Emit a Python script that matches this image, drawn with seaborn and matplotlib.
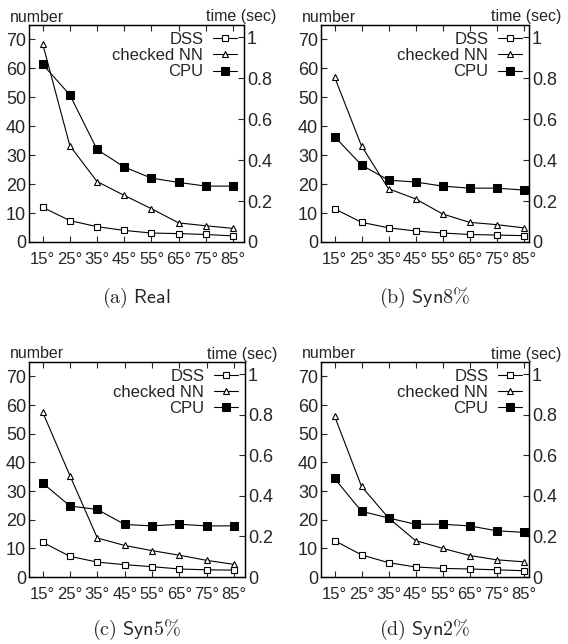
import numpy as np
import matplotlib
matplotlib.use('Agg')
import matplotlib.pyplot as plt
import seaborn as sns

# --- data ---
angles = [15, 25, 35, 45, 55, 65, 75, 85]
angle_labels = ['15°', '25°', '35°', '45°', '55°', '65°', '75°', '85°']

real_dss = [12.0, 7.4, 5.3, 4.0, 3.1, 2.9, 2.6, 2.1]
real_nn = [68.6, 33.3, 20.9, 16.1, 11.5, 6.6, 5.6, 4.7]
real_cpu = [0.868, 0.719, 0.452, 0.366, 0.312, 0.291, 0.273, 0.273]

syn8_dss = [11.5, 6.8, 4.9, 3.8, 3.1, 2.6, 2.4, 2.2]
syn8_nn = [57.1, 33.2, 18.4, 14.9, 9.7, 6.8, 6.0, 4.9]
syn8_cpu = [0.515, 0.376, 0.302, 0.293, 0.273, 0.263, 0.263, 0.254]

syn5_dss = [12.1, 7.2, 5.2, 4.3, 3.6, 2.8, 2.5, 2.4]
syn5_nn = [57.5, 35.3, 13.6, 11.0, 9.2, 7.6, 5.8, 4.4]
syn5_cpu = [0.463, 0.350, 0.333, 0.259, 0.252, 0.260, 0.252, 0.252]

syn2_dss = [12.7, 7.7, 5.0, 3.5, 3.0, 2.8, 2.5, 2.2]
syn2_nn = [56.2, 31.6, 20.6, 12.7, 10.0, 7.5, 6.0, 5.3]
syn2_cpu = [0.486, 0.324, 0.291, 0.260, 0.260, 0.252, 0.228, 0.220]

panels = [
    ('a', 'Real', real_dss, real_nn, real_cpu),
    ('b', 'Syn8\\%', syn8_dss, syn8_nn, syn8_cpu),
    ('c', 'Syn5\\%', syn5_dss, syn5_nn, syn5_cpu),
    ('d', 'Syn2\\%', syn2_dss, syn2_nn, syn2_cpu),
]

sns.set_style('ticks')
plt.rcParams['font.family'] = ['Liberation Sans', 'DejaVu Sans']
plt.rcParams['mathtext.fontset'] = 'cm'
plt.rcParams['xtick.direction'] = 'in'
plt.rcParams['ytick.direction'] = 'in'

W, H = 568, 644
fig = plt.figure(figsize=(W / 100, H / 100), dpi=100)

# axes boxes in pixels: left, top, right, bottom, xlim right edge, caption centre y
boxes = [
    (29, 25, 244, 242, 89, 298),
    (321, 25, 529, 242, 87, 298),
    (29, 362, 245, 577, 89, 630),
    (321, 362, 529, 577, 87, 630),
]

for (tag, name, dss, nn, cpu), (l, t, r, b, xr, capy) in zip(panels, boxes):
    ax = fig.add_axes([l / W, 1 - b / H, (r - l) / W, (b - t) / H])
    ax2 = ax.twinx()

    sns.lineplot(x=angles, y=dss, ax=ax, color='black', linewidth=0.8,
                 marker='s', markersize=5, markerfacecolor='white',
                 markeredgecolor='black', markeredgewidth=0.8, label='DSS', legend=False)
    sns.lineplot(x=angles, y=nn, ax=ax, color='black', linewidth=0.8,
                 marker='^', markersize=4.5, markerfacecolor='white',
                 markeredgecolor='black', markeredgewidth=0.8, label='checked NN', legend=False)
    sns.lineplot(x=angles, y=cpu, ax=ax2, color='black', linewidth=0.8,
                 marker='s', markersize=5.3, markerfacecolor='black',
                 markeredgecolor='black', label='CPU', legend=False)

    ax.set_xlim(10, xr)
    ax.set_ylim(0, 75)
    ax2.set_ylim(0, 1.06)
    ax.set_xticks(angles)
    ax.set_xticklabels(angle_labels)
    ax.set_yticks(range(0, 71, 10))
    ax2.set_yticks([0, 0.2, 0.4, 0.6, 0.8, 1])
    ax2.set_yticklabels(['0', '0.2', '0.4', '0.6', '0.8', '1'])
    ax.tick_params(axis='x', top=True, length=4, width=0.8, labelsize=12, pad=7)
    ax.tick_params(axis='y', length=4, width=0.8, labelsize=13, pad=2)
    ax2.tick_params(axis='y', length=4, width=0.8, labelsize=13, pad=2)
    for a in (ax, ax2):
        for s in a.spines.values():
            s.set_linewidth(0.9)
            s.set_color('black')
    ax.set_xlabel('')
    ax.set_ylabel('')
    ax2.set_ylabel('')

    h1, l1 = ax.get_legend_handles_labels()
    h2, l2 = ax2.get_legend_handles_labels()
    ax2.legend(h1 + h2, l1 + l2, loc='upper right', frameon=False, markerfirst=False,
               fontsize=12, handlelength=1.45, handletextpad=0.6, labelspacing=0.08,
               borderaxespad=0.2, borderpad=0.2)

    fig.text(l / W - 19 / W, 1 - (t - 8) / H, 'number', fontsize=11.5, va='center', ha='left')
    fig.text((r + 32) / W, 1 - (t - 8) / H, 'time (sec)', fontsize=11.5, va='center', ha='right')

    cx = (l + r) / 2 / W
    fig.text(cx, 1 - capy / H, r'$\mathrm{(%s)}\ \mathsf{%s}$' % (tag, name), fontsize=14.5,
             ha='center', va='center')

fig.savefig('out.png', dpi=100)
